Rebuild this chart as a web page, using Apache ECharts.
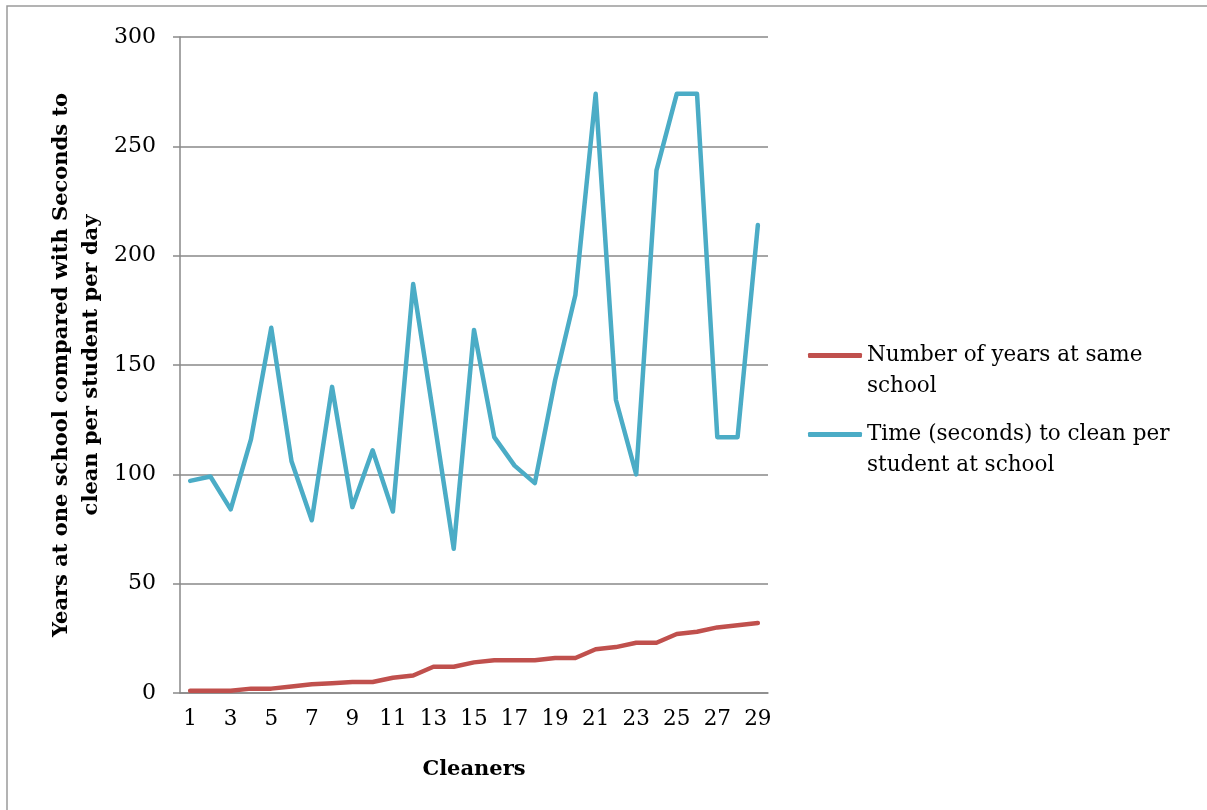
<!DOCTYPE html>
<html>
<head>
<meta charset="utf-8">
<script src="https://cdn.jsdelivr.net/npm/echarts@6/dist/echarts.min.js"></script>
<style>
  html, body { margin: 0; padding: 0; background: #fff; }
  #chart { width: 1207px; height: 810px; }
</style>
</head>
<body>
<div id="chart"></div>
<script>
// Cleaners numbered 1..29
const cleaners = ['1','2','3','4','5','6','7','8','9','10','11','12','13','14','15','16','17','18','19','20','21','22','23','24','25','26','27','28','29'];
// Years each cleaner has worked at the same school
const yearsAtSchool = [1,1,1,2,2,3,4,4.5,5,5,7,8,12,12,14,15,15,15,16,16,20,21,23,23,27,28,30,31,32];
// Seconds spent cleaning per student per day
const secondsPerStudent = [97,99,84,116,167,106,79,140,85,111,83,187,127,66,166,117,104,96,143,182,274,134,100,239,274,274,117,117,214];
const yTicks = { min: 0, max: 300, interval: 50 };

const serif = '"DejaVu Serif", "Liberation Serif", serif';
const gridGrey = '#898989';

const chart = echarts.init(document.getElementById('chart'));
chart.setOption({
  animation: false,
  backgroundColor: '#ffffff',
  graphic: [{
    type: 'rect',
    shape: { x: 7, y: 6, width: 1400, height: 1000 },
    style: { fill: 'none', stroke: '#9a9a9a', lineWidth: 1.5 },
    silent: true
  }],
  grid: { left: 180, right: 439, top: 37, bottom: 117 },
  legend: {
    orient: 'vertical',
    left: 803,
    top: 304,
    itemWidth: 54,
    itemHeight: 5,
    itemGap: -14,
    icon: 'roundRect',
    // a leading blank line keeps the swatch level with the first text line
    formatter: name => '\n' + name,
    data: [
      { name: 'Number of years at same\nschool' },
      { name: 'Time (seconds) to clean per\nstudent at school' }
    ],
    textStyle: {
      fontFamily: serif,
      fontSize: 21.5,
      color: '#000',
      lineHeight: 31
    }
  },
  xAxis: {
    type: 'category',
    data: cleaners,
    boundaryGap: true,
    name: 'Cleaners',
    nameLocation: 'middle',
    nameGap: 66,
    nameTextStyle: { fontFamily: serif, fontSize: 21, fontWeight: 'bold', color: '#000' },
    axisLine: { lineStyle: { color: gridGrey, width: 1.5 } },
    axisTick: { show: false },
    axisLabel: { interval: 1, margin: 15, fontFamily: serif, fontSize: 21.5, color: '#000' },
    splitLine: { show: false }
  },
  yAxis: {
    type: 'value',
    min: yTicks.min,
    max: yTicks.max,
    interval: yTicks.interval,
    name: 'Years at one school compared with Seconds to\nclean per student per day',
    nameLocation: 'middle',
    nameRotate: 90,
    nameGap: 73,
    nameTextStyle: { fontFamily: serif, fontSize: 21, fontWeight: 'bold', color: '#000', lineHeight: 30 },
    axisLine: { show: true, lineStyle: { color: gridGrey, width: 1.5 } },
    axisTick: { show: true, inside: false, length: 7, lineStyle: { color: gridGrey, width: 1.5 } },
    axisLabel: { margin: 24, fontFamily: serif, fontSize: 22, color: '#000' },
    splitLine: { show: true, lineStyle: { color: gridGrey, width: 1.5 } }
  },
  series: [
    {
      name: 'Number of years at same\nschool',
      type: 'line',
      data: yearsAtSchool,
      symbol: 'none',
      color: '#C0504D',
      lineStyle: { width: 4.5, color: '#C0504D', cap: 'round', join: 'round' }
    },
    {
      name: 'Time (seconds) to clean per\nstudent at school',
      type: 'line',
      data: secondsPerStudent,
      symbol: 'none',
      color: '#4BACC6',
      lineStyle: { width: 4.5, color: '#4BACC6', cap: 'round', join: 'round' }
    }
  ]
});
</script>
</body>
</html>
